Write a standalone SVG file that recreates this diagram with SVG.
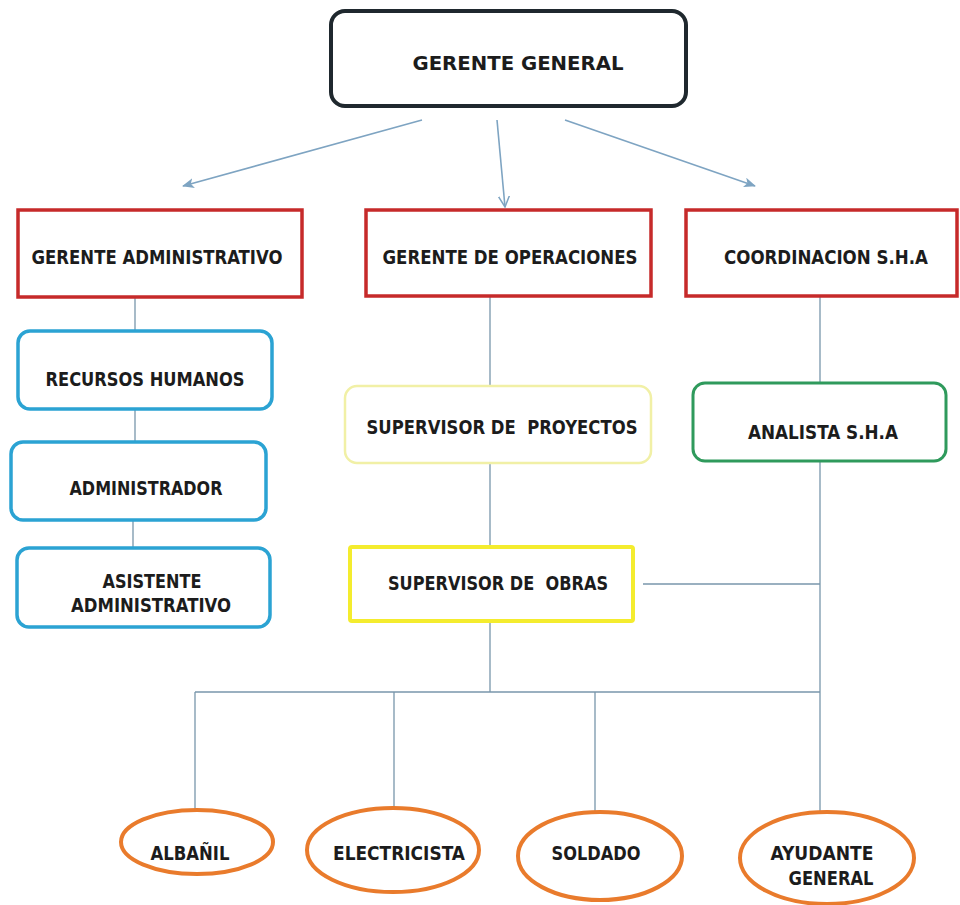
<svg xmlns="http://www.w3.org/2000/svg" width="960" height="905" viewBox="0 0 960 905">
<defs>
<style>
.t{font-family:"DejaVu Sans Condensed","DejaVu Sans",sans-serif;font-weight:bold;font-size:20px;fill:#1c1c1c;text-anchor:middle;white-space:pre}
.red{fill:#fff;stroke:#c62a2a;stroke-width:3.5}
.blue{fill:#fff;stroke:#2ba3d3;stroke-width:3.5}
.ora{fill:#fff;stroke:#e97b2c;stroke-width:4}
.ln{fill:none;stroke:#7896ab;stroke-width:1.3}
.ar{fill:none;stroke:#7ea4c2;stroke-width:1.6}
</style>
<marker id="fill" viewBox="0 0 12 10" refX="11" refY="5" markerWidth="12" markerHeight="10" markerUnits="userSpaceOnUse" orient="auto">
<path d="M0,0 L12,5 L0,10 L3,5 Z" fill="#7ea4c2"/>
</marker>
<marker id="open" viewBox="0 0 12 12" refX="11" refY="6" markerWidth="12" markerHeight="12" markerUnits="userSpaceOnUse" orient="auto">
<path d="M0,0.5 L11,6 L0,11.5" fill="none" stroke="#7ea4c2" stroke-width="1.5"/>
</marker>
</defs>
<rect width="960" height="905" fill="#fff"/>

<g id="connectors">
<line class="ar" x1="422" y1="120" x2="183" y2="186" marker-end="url(#fill)"/>
<line class="ar" x1="497" y1="120" x2="505" y2="207" marker-end="url(#open)"/>
<line class="ar" x1="565" y1="120" x2="755" y2="186" marker-end="url(#fill)"/>
<line class="ln" x1="135" y1="297" x2="135" y2="331"/>
<line class="ln" x1="135" y1="409" x2="135" y2="442"/>
<line class="ln" x1="133" y1="520" x2="133" y2="548"/>
<line class="ln" x1="490" y1="296" x2="490" y2="386"/>
<line class="ln" x1="490" y1="463" x2="490" y2="547"/>
<line class="ln" x1="490" y1="621" x2="490" y2="692"/>
<line class="ln" x1="820" y1="296" x2="820" y2="383"/>
<line class="ln" x1="820" y1="461" x2="820" y2="812"/>
<line class="ln" x1="643" y1="584" x2="820" y2="584"/>
<line class="ln" x1="195" y1="692" x2="820" y2="692"/>
<line class="ln" x1="195" y1="692" x2="195" y2="811"/>
<line class="ln" x1="394" y1="692" x2="394" y2="808"/>
<line class="ln" x1="595" y1="692" x2="595" y2="812"/>
</g>

<g id="gerente-general">
<rect x="331" y="11" width="355" height="95" rx="14" fill="#fff" stroke="#1f282e" stroke-width="4"/>
<text class="t" x="518" y="69.5" font-size="22" textLength="211" lengthAdjust="spacingAndGlyphs">GERENTE GENERAL</text>
</g>

<g id="gerente-administrativo">
<rect class="red" x="18" y="210" width="284" height="87"/>
<text class="t" x="157" y="263.5" textLength="251" lengthAdjust="spacingAndGlyphs">GERENTE ADMINISTRATIVO</text>
</g>

<g id="gerente-operaciones">
<rect class="red" x="366" y="210" width="285" height="86"/>
<text class="t" x="510" y="263.5" textLength="255" lengthAdjust="spacingAndGlyphs">GERENTE DE OPERACIONES</text>
</g>

<g id="coordinacion-sha">
<rect class="red" x="686" y="210" width="271" height="86"/>
<text class="t" x="826" y="263.5" textLength="204" lengthAdjust="spacingAndGlyphs">COORDINACION S.H.A</text>
</g>

<g id="recursos-humanos">
<rect class="blue" x="18" y="331" width="254" height="78" rx="12"/>
<text class="t" x="145" y="386" textLength="199" lengthAdjust="spacingAndGlyphs">RECURSOS HUMANOS</text>
</g>

<g id="administrador">
<rect class="blue" x="11" y="442" width="255" height="78" rx="12"/>
<text class="t" x="146" y="495" textLength="153" lengthAdjust="spacingAndGlyphs">ADMINISTRADOR</text>
</g>

<g id="asistente-administrativo">
<rect class="blue" x="17" y="548" width="253" height="79" rx="12"/>
<text class="t" x="152" y="588" textLength="99" lengthAdjust="spacingAndGlyphs">ASISTENTE</text>
<text class="t" x="151" y="612" textLength="160" lengthAdjust="spacingAndGlyphs">ADMINISTRATIVO</text>
</g>

<g id="supervisor-proyectos">
<rect x="345" y="386" width="306" height="77" rx="12" fill="#fff" stroke="#f1f0a6" stroke-width="2.5"/>
<text class="t" x="502" y="434" textLength="271" lengthAdjust="spacingAndGlyphs">SUPERVISOR DE  PROYECTOS</text>
</g>

<g id="analista-sha">
<rect x="693" y="383" width="253" height="78" rx="12" fill="#fff" stroke="#2f9a5c" stroke-width="3"/>
<text class="t" x="823" y="439" textLength="150" lengthAdjust="spacingAndGlyphs">ANALISTA S.H.A</text>
</g>

<g id="supervisor-obras">
<rect x="350" y="547" width="283" height="74" rx="2" fill="#fff" stroke="#f4ec2e" stroke-width="4"/>
<text class="t" x="498" y="590" textLength="220" lengthAdjust="spacingAndGlyphs">SUPERVISOR DE  OBRAS</text>
</g>

<g id="albanil">
<ellipse class="ora" cx="197" cy="842" rx="76" ry="32"/>
<text class="t" x="190" y="860" textLength="79" lengthAdjust="spacingAndGlyphs">ALBAÑIL</text>
</g>

<g id="electricista">
<ellipse class="ora" cx="393" cy="850" rx="86" ry="42"/>
<text class="t" x="399" y="860" textLength="132" lengthAdjust="spacingAndGlyphs">ELECTRICISTA</text>
</g>

<g id="soldado">
<ellipse class="ora" cx="600" cy="856" rx="82" ry="44"/>
<text class="t" x="596" y="860" textLength="89" lengthAdjust="spacingAndGlyphs">SOLDADO</text>
</g>

<g id="ayudante-general">
<ellipse class="ora" cx="827" cy="858" rx="87" ry="46"/>
<text class="t" x="822" y="860" textLength="103" lengthAdjust="spacingAndGlyphs">AYUDANTE</text>
<text class="t" x="831" y="885" textLength="85" lengthAdjust="spacingAndGlyphs">GENERAL</text>
</g>
</svg>
